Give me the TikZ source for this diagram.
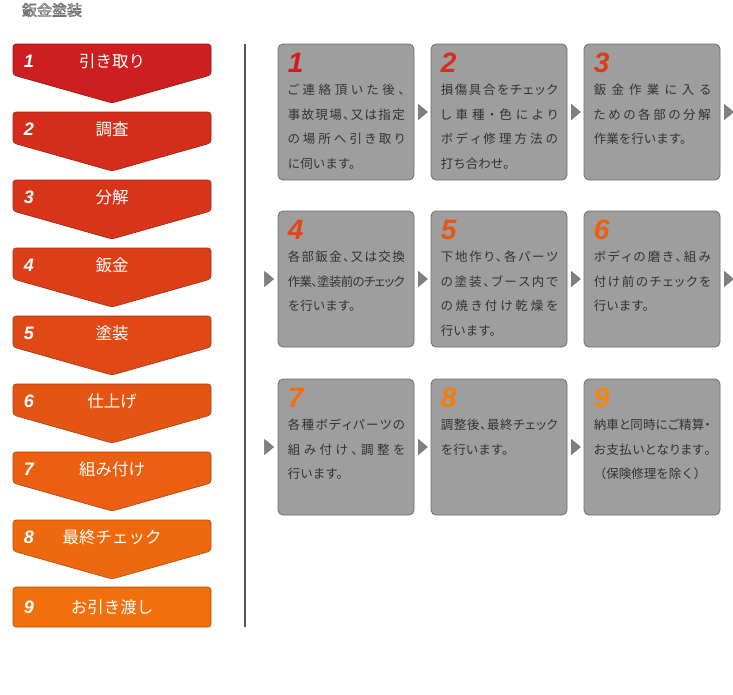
\documentclass[tikz,border=0pt]{standalone}
\usepackage{fontspec}
\setmainfont{Noto Sans CJK JP}
\newfontfamily\jp{Noto Sans CJK JP}
\newfontfamily\jpp{Noto Sans CJK JP}[RawFeature=+palt]
\newfontfamily\numf{Liberation Sans}
\usetikzlibrary{calc}
\definecolor{c1}{HTML}{CD1F1F}
\definecolor{c2}{HTML}{D42D1B}
\definecolor{c3}{HTML}{D83419}
\definecolor{c4}{HTML}{DC3E17}
\definecolor{c5}{HTML}{E04815}
\definecolor{c6}{HTML}{E45413}
\definecolor{c7}{HTML}{EA5F11}
\definecolor{c8}{HTML}{EE690E}
\definecolor{c9}{HTML}{F2700B}
\definecolor{n1}{HTML}{D41C1C}
\definecolor{n2}{HTML}{DA2E1C}
\definecolor{n3}{HTML}{DD3A1A}
\definecolor{n4}{HTML}{E24618}
\definecolor{n5}{HTML}{E65514}
\definecolor{n6}{HTML}{E96012}
\definecolor{n7}{HTML}{F06E0E}
\definecolor{n8}{HTML}{F47C0A}
\definecolor{n9}{HTML}{F5860A}
\definecolor{boxgray}{HTML}{9D9E9D}
\definecolor{boxedge}{HTML}{6E6E6E}
\definecolor{txtgray}{HTML}{333333}
\definecolor{trigray}{HTML}{7F807F}
\definecolor{linegray}{HTML}{555555}
% justified line helpers
\def\jgap{\hskip 0pt plus 1fil minus 2pt}
\def\jloop#1{\ifx#1\relax\else\jgap#1\expandafter\jloop\fi}
\def\jfirst#1{#1\jloop}
\newcommand\JL[1]{\hbox{\makebox[117pt][s]{\jpp\jfirst#1\relax}}}
\newcommand\JN[1]{\hbox{\jp #1}}
\newcommand\blines[1]{\vtop{\baselineskip=24.5pt\lineskiplimit=-20pt\lineskip=0pt #1}}
\tikzset{
  gbox/.style={draw=boxedge, fill=boxgray, line width=0.8pt, rounded corners=5pt,
    minimum width=136pt, minimum height=136pt, inner sep=0pt},
  btxt/.style={anchor=base west, inner sep=0pt, text=txtgray, font=\jp\fontsize{12.5}{24.5}\selectfont},
  bnum/.style={anchor=base west, inner sep=0pt, font=\numf\bfseries\itshape\fontsize{28}{28}\selectfont},
  lnum/.style={inner sep=0pt, text=white, font=\numf\bfseries\itshape\fontsize{18}{18}\selectfont},
  llab/.style={inner sep=0pt, text=white, font=\jp\fontsize{16.5}{16.5}\selectfont},
  tri/.style={fill=trigray, draw=trigray!80!black, line width=0.4pt},
  vline/.style={draw=linegray, line width=1.4pt}
}
\newcommand\chev[4]{%
  \filldraw[fill=c#1, draw=c#1!72!black, line width=0.6pt, rounded corners=3pt]
    (112,#2+59) -- (13,#2+31) -- (13,#2) -- (211,#2) -- (211,#2+31) -- cycle;
  \node[lnum] (k#1) at (29,#2+17) {#3};
  \node[llab] (l#1) at (112,#2+17) {#4};}
\newcommand\trir[1]{\filldraw[tri] ($(#1.east)+(4,-7.5)$) -- ++(0,15) -- ++(9,-7.5) -- cycle;}
\newcommand\tril[1]{\filldraw[tri] ($(#1.west)+(-13,-7.5)$) -- ++(0,15) -- ++(9,-7.5) -- cycle;}
\begin{document}
\begin{tikzpicture}[x=1pt,y=-1pt]
\useasboundingbox (0,0) rectangle (733,694);
\fill[white] (0,0) rectangle (733,694);
% title
\node[inner sep=0pt, font=\jp\fontsize{15}{15}\selectfont] (title) at (52,10)
  {\color{white}\special{pdf:literal direct 0.45 G 0.6 w 2 Tr}鈑金塗装\special{pdf:literal direct 0 Tr}};
% left column
\chev{1}{44}{1}{引き取り}
\chev{2}{112}{2}{調査}
\chev{3}{180}{3}{分解}
\chev{4}{248}{4}{鈑金}
\chev{5}{316}{5}{塗装}
\chev{6}{384}{6}{仕上げ}
\chev{7}{452}{7}{組み付け}
\chev{8}{520}{8}{最終チェック}
\filldraw[fill=c9, draw=c9!72!black, line width=0.6pt, rounded corners=3pt] (13,587) rectangle (211,627);
\node[lnum] (k9) at (29,607) {9};
\node[llab] (l9) at (112,607) {お引き渡し};
% divider
\coordinate (vt) at (245,44);
\coordinate (vb) at (245,627);
\draw[vline] (vt) -- (vb);
% boxes
\node[gbox] (b1) at (346,112) {};
\node[gbox] (b2) at (499,112) {};
\node[gbox] (b3) at (652,112) {};
\node[gbox] (b4) at (346,279) {};
\node[gbox] (b5) at (499,279) {};
\node[gbox] (b6) at (652,279) {};
\node[gbox] (b7) at (346,447) {};
\node[gbox] (b8) at (499,447) {};
\node[gbox] (b9) at (652,447) {};
% numbers
\foreach \i in {1,...,9}{
  \node[bnum, text=n\i] (m\i) at ($(b\i.north west)+(10,29)$) {\i};
}
% texts
\node[btxt] (t1) at ($(b1.north west)+(10,51)$) {\blines{\JL{ご連絡頂いた後、}\JL{事故現場、又は指定}\JL{の場所へ引き取り}\JN{に伺います。}}};
\node[btxt] (t2) at ($(b2.north west)+(10,51)$) {\blines{\JL{損傷具合をチェック}\JL{し車種・色により}\JL{ボディ修理方法の}\JN{打ち合わせ。}}};
\node[btxt] (t3) at ($(b3.north west)+(10,51)$) {\blines{\JL{鈑金作業に入る}\JL{ための各部の分解}\JN{作業を行います。}}};
\node[btxt] (t4) at ($(b4.north west)+(10,51)$) {\blines{\JL{各部鈑金、又は交換}\JL{作業、塗装前のチェック}\JN{を行います。}}};
\node[btxt] (t5) at ($(b5.north west)+(10,51)$) {\blines{\JL{下地作り、各パーツ}\JL{の塗装、ブース内で}\JL{の焼き付け乾燥を}\JN{行います。}}};
\node[btxt] (t6) at ($(b6.north west)+(10,51)$) {\blines{\JL{ボディの磨き、組み}\JL{付け前のチェックを}\JN{行います。}}};
\node[btxt] (t7) at ($(b7.north west)+(10,51)$) {\blines{\JL{各種ボディパーツの}\JL{組み付け、調整を}\JN{行います。}}};
\node[btxt] (t8) at ($(b8.north west)+(10,51)$) {\blines{\JL{調整後、最終チェック}\JN{を行います。}}};
\node[btxt] (t9) at ($(b9.north west)+(10,51)$) {\blines{\JL{納車と同時にご精算・}\JL{お支払いとなります。}\JN{（保険修理を除く）}}};
% arrow triangles
\trir{b1}\trir{b2}\trir{b3}
\tril{b4}\trir{b4}\trir{b5}\trir{b6}
\tril{b7}\trir{b7}\trir{b8}
\end{tikzpicture}
\end{document}
